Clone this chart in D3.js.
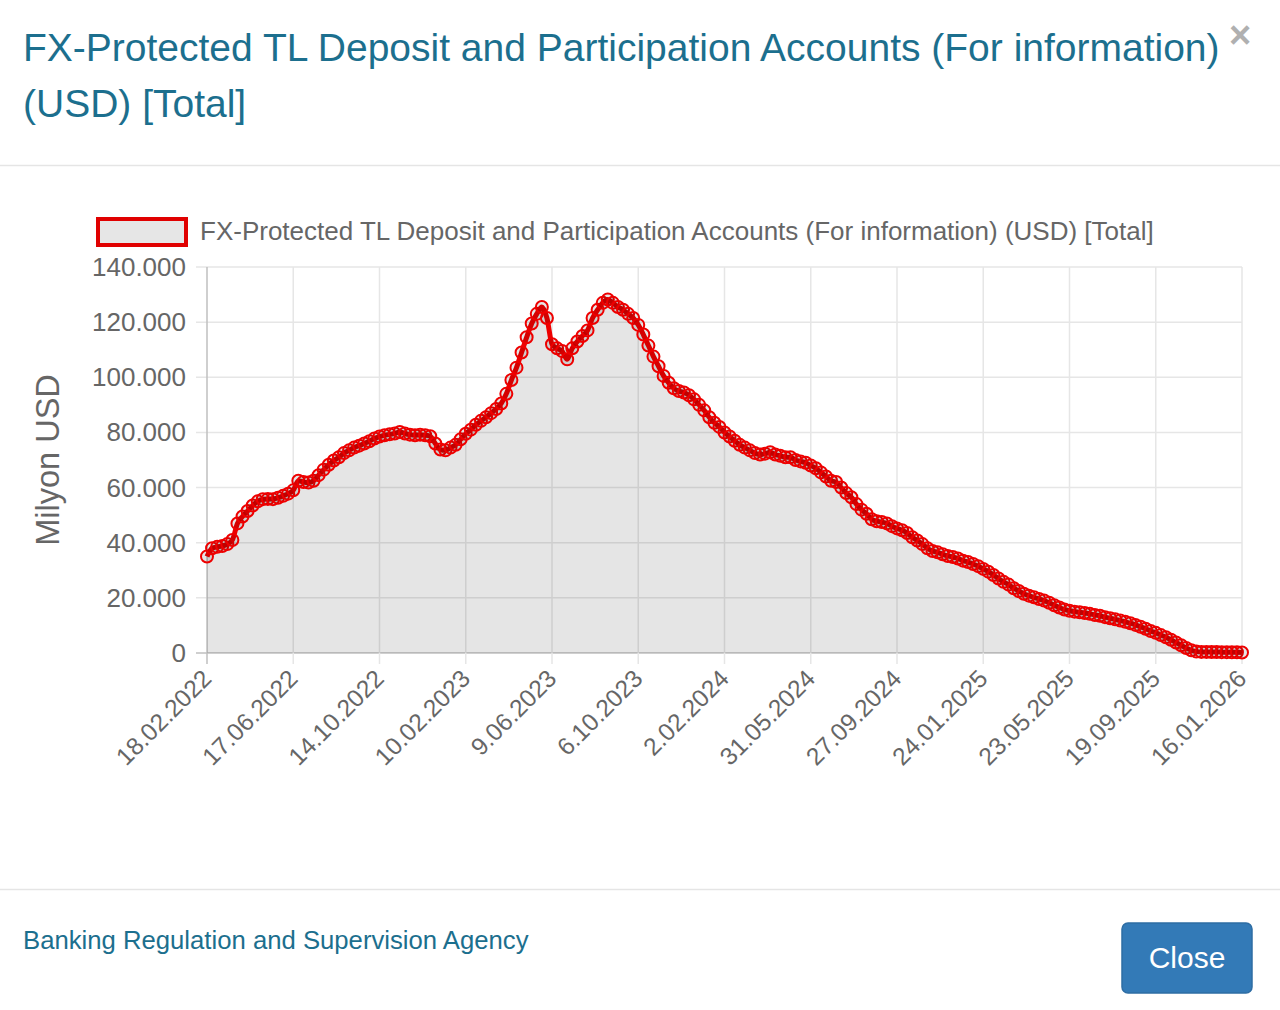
<!DOCTYPE html>
<html>
<head>
<meta charset="utf-8">
<script src="https://cdn.jsdelivr.net/npm/d3@7"></script>
<style>
  body { margin: 0; background: #fff; font-family: "Liberation Sans", Arial, sans-serif; }
  svg { display: block; }
</style>
</head>
<body>
<svg id="chart" width="1280" height="1010"></svg>
<script>
// weekly values, 18.02.2022 .. 16.01.2026 (Milyon USD)
var values = [
  35000, 38000, 38500, 38800, 39500, 41000, 47000, 49500, 51500, 53500,
  55000, 55800, 55900, 55800, 56300, 57000, 57800, 59000, 62500, 62000,
  61800, 62500, 64500, 66500, 68300, 69800, 71000, 72500, 73500, 74500,
  75200, 76000, 76800, 77800, 78500, 79000, 79300, 79600, 80200, 79600,
  79200, 79000, 79200, 79000, 78600, 76000, 73800, 73500, 74500, 75500,
  77500, 79500, 81000, 82800, 84200, 85500, 87000, 88500, 90500, 94000,
  99000, 103500, 109000, 114500, 119500, 123000, 125500, 121500, 112000, 110500,
  109500, 106500, 110500, 113000, 115000, 117000, 121500, 124500, 127000, 128200,
  127000, 125500, 124500, 123000, 121500, 119000, 115500, 111500, 107500, 104000,
  100500, 98000, 96000, 95000, 94500, 93500, 92000, 90000, 88000, 85500,
  83500, 82000, 80000, 78500, 77000, 75500, 74500, 73500, 72500, 72000,
  72300, 72800, 72000, 71500, 71000, 71000, 70000, 69500, 69000, 68000,
  67000, 65500, 64000, 62500, 62000, 60000, 58000, 56500, 54000, 52000,
  50500, 48500, 47800, 47500, 47000, 46000, 45200, 44500, 43500, 42000,
  40800, 39500, 38000, 37000, 36500, 35800, 35200, 34800, 34300, 33500,
  33000, 32300, 31500, 30500, 29500, 28300, 27000, 25800, 24800, 23500,
  22500, 21500, 20800, 20200, 19600, 19000, 18200, 17300, 16500, 15800,
  15300, 15000, 14800, 14500, 14200, 13800, 13500, 13000, 12600, 12200,
  11800, 11300, 10800, 10200, 9500, 8800, 8000, 7300, 6500, 5700,
  4800, 3800, 2800, 1800, 1000, 500, 400, 400, 350, 350,
  300, 300, 250, 250, 200
];
var startDate = new Date(2022, 1, 18);
var categories = values.map(function(v, i) {
  var d = new Date(startDate.getTime());
  d.setDate(d.getDate() + 7 * i);
  return d.getDate() + "." + String(d.getMonth() + 1).padStart(2, "0") + "." + d.getFullYear();
});
var yTicks = [0, 20000, 40000, 60000, 80000, 100000, 120000, 140000];
var seriesName = "FX-Protected TL Deposit and Participation Accounts (For information) (USD) [Total]";

var teal = "#1c6f8e", grey = "#666";
var svg = d3.select("#chart");

// modal header
svg.append("text").attr("x", 23).attr("y", 61)
  .attr("font-size", 39).attr("fill", teal)
  .text("FX-Protected TL Deposit and Participation Accounts (For information)");
svg.append("text").attr("x", 23).attr("y", 117)
  .attr("font-size", 39).attr("fill", teal)
  .text("(USD) [Total]");
svg.append("text").attr("x", 1240).attr("y", 48).attr("text-anchor", "middle")
  .attr("font-size", 38).attr("font-weight", "bold").attr("fill", "#b0b0b0")
  .text("×");
svg.append("line").attr("x1", 0).attr("x2", 1280).attr("y1", 165.5).attr("y2", 165.5)
  .attr("stroke", "#e5e5e5").attr("stroke-width", 1.5);

// chart area
var x = d3.scaleLinear().domain([0, values.length - 1]).range([207, 1242]);
var y = d3.scaleLinear().domain([0, 140000]).range([653, 267]);
var fmt = function(v) { return d3.format(",")(v).replace(/,/g, "."); };

var g = svg.append("g");

// horizontal grid + y labels
yTicks.forEach(function(t) {
  g.append("line").attr("x1", 196).attr("x2", 1242)
    .attr("y1", y(t)).attr("y2", y(t))
    .attr("stroke", t === 0 ? "#bfbfbf" : "#e6e6e6").attr("stroke-width", 1.5);
  g.append("text").attr("x", 186).attr("y", y(t) + 9)
    .attr("text-anchor", "end").attr("font-size", 26).attr("fill", grey)
    .text(fmt(t));
});

// vertical grid at shown labels (every 17 weeks)
var shown = d3.range(0, values.length, 17);
shown.forEach(function(i) {
  g.append("line").attr("x1", x(i)).attr("x2", x(i))
    .attr("y1", 267).attr("y2", 664)
    .attr("stroke", i === 0 ? "#bfbfbf" : "#e6e6e6").attr("stroke-width", 1.5);
  var lx = x(i) + 6, ly = 680;
  g.append("text").attr("transform", "translate(" + lx + "," + ly + ") rotate(-45)")
    .attr("text-anchor", "end").attr("font-size", 24.5).attr("fill", grey)
    .text(categories[i]);
});

// axis title
svg.append("text").attr("transform", "translate(59,460) rotate(-90)")
  .attr("text-anchor", "middle").attr("font-size", 32.5).attr("fill", grey)
  .text("Milyon USD");

// area + line
var area = d3.area().x(function(d, i) { return x(i); })
  .y0(y(0)).y1(function(d) { return y(d); })
  .curve(d3.curveMonotoneX);
var line = d3.line().x(function(d, i) { return x(i); })
  .y(function(d) { return y(d); })
  .curve(d3.curveMonotoneX);

g.append("path").datum(values).attr("d", area)
  .attr("fill", "rgba(0,0,0,0.1)");
g.append("path").datum(values).attr("d", line)
  .attr("fill", "none").attr("stroke", "#ee0000").attr("stroke-width", 5);
g.selectAll("circle.pt").data(values).enter().append("circle")
  .attr("class", "pt")
  .attr("cx", function(d, i) { return x(i); })
  .attr("cy", function(d) { return y(d); })
  .attr("r", 6)
  .attr("fill", "rgba(0,0,0,0.1)")
  .attr("stroke", "#ee0000").attr("stroke-width", 2);

// legend
svg.append("rect").attr("x", 98).attr("y", 219).attr("width", 88).attr("height", 26)
  .attr("fill", "#e6e6e6").attr("stroke", "#e00000").attr("stroke-width", 4);
svg.append("text").attr("x", 200).attr("y", 240)
  .attr("font-size", 26).attr("fill", grey).text(seriesName);

// footer
svg.append("line").attr("x1", 0).attr("x2", 1280).attr("y1", 889.5).attr("y2", 889.5)
  .attr("stroke", "#e5e5e5").attr("stroke-width", 1.5);
svg.append("text").attr("x", 23).attr("y", 949)
  .attr("font-size", 25.7).attr("fill", teal)
  .text("Banking Regulation and Supervision Agency");
svg.append("rect").attr("x", 1122).attr("y", 923).attr("width", 130).attr("height", 70)
  .attr("rx", 6).attr("fill", "#337ab7").attr("stroke", "#2e6da4").attr("stroke-width", 1.5);
svg.append("text").attr("x", 1187).attr("y", 968).attr("text-anchor", "middle")
  .attr("font-size", 30).attr("fill", "#fff").text("Close");
</script>
</body>
</html>
